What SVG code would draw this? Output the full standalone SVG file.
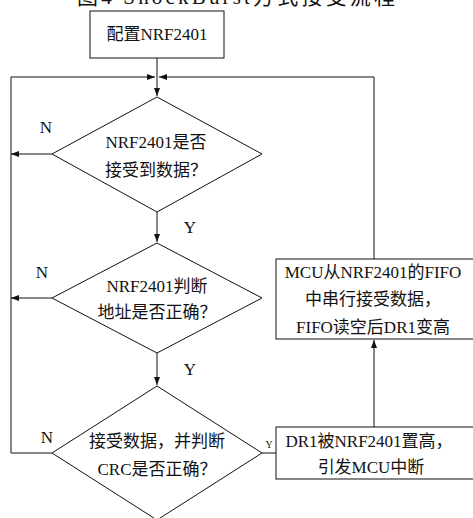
<svg xmlns="http://www.w3.org/2000/svg" width="473" height="518" viewBox="0 0 473 518">
<style>
.t{font-family:"Liberation Serif","Noto Sans CJK SC",serif;font-size:17px;fill:#111;text-anchor:middle}
.s{fill:#fff;stroke:#111;stroke-width:1}
.c{fill:none;stroke:#111;stroke-width:1}
</style>
<defs>
<marker id="a" markerWidth="9" markerHeight="7" refX="8" refY="3" orient="auto" markerUnits="userSpaceOnUse">
<path d="M0,0 L8,3 L0,6 z" fill="#111"/>
</marker>
</defs>
<rect width="473" height="518" fill="#fff"/>
<text class="t" x="77" y="4" textLength="318" lengthAdjust="spacing" style="font-size:21px;text-anchor:start">图4 ShockBurst方式接受流程</text>
<g id="connectors">
<line class="c" x1="157" y1="58" x2="157" y2="96" marker-end="url(#a)"/>
<polyline class="c" points="52,453 11,453 11,77 155,77" marker-end="url(#a)"/>
<polyline class="c" points="374,259 374,77 159,77" marker-end="url(#a)"/>
<line class="c" x1="52" y1="154" x2="11" y2="154" marker-end="url(#a)"/>
<line class="c" x1="157" y1="212" x2="157" y2="242" marker-end="url(#a)"/>
<line class="c" x1="52" y1="298" x2="11" y2="298" marker-end="url(#a)"/>
<line class="c" x1="157" y1="353" x2="157" y2="385" marker-end="url(#a)"/>
<line class="c" x1="262" y1="453" x2="276" y2="453"/>
<line class="c" x1="374" y1="427" x2="374" y2="340" marker-end="url(#a)"/>
<text class="t" x="46" y="133">N</text>
<text class="t" x="190" y="233">Y</text>
<text class="t" x="42" y="278">N</text>
<text class="t" x="190" y="375">Y</text>
<text class="t" x="47" y="443">N</text>
<text class="t" x="269" y="448" style="font-size:10px">Y</text>
</g>
<g id="config">
<rect class="s" x="90" y="11" width="134" height="47"/>
<text class="t" x="157" y="40">配置NRF2401</text>
</g>
<g id="d1">
<polygon class="s" points="157,97 262,154 157,212 52,154"/>
<text class="t" x="156" y="148">NRF2401是否</text>
<text class="t" x="156" y="176">接受到数据？</text>
</g>
<g id="d2">
<polygon class="s" points="157,243 262,298 157,353 52,298"/>
<text class="t" x="157" y="292">NRF2401判断</text>
<text class="t" x="157" y="318">地址是否正确？</text>
</g>
<g id="d3">
<polygon class="s" points="157,386 262,453 157,520 52,453"/>
<text class="t" x="157" y="447">接受数据，并判断</text>
<text class="t" x="157" y="475">CRC是否正确？</text>
</g>
<g id="mcu">
<rect class="s" x="276" y="259" width="200" height="80"/>
<text class="t" x="373" y="278">MCU从NRF2401的FIFO</text>
<text class="t" x="373" y="305">中串行接受数据，</text>
<text class="t" x="373" y="333">FIFO读空后DR1变高</text>
</g>
<g id="dr1">
<rect class="s" x="276" y="427" width="200" height="52"/>
<text class="t" x="369" y="447">DR1被NRF2401置高，</text>
<text class="t" x="371" y="473">引发MCU中断</text>
</g>
</svg>
